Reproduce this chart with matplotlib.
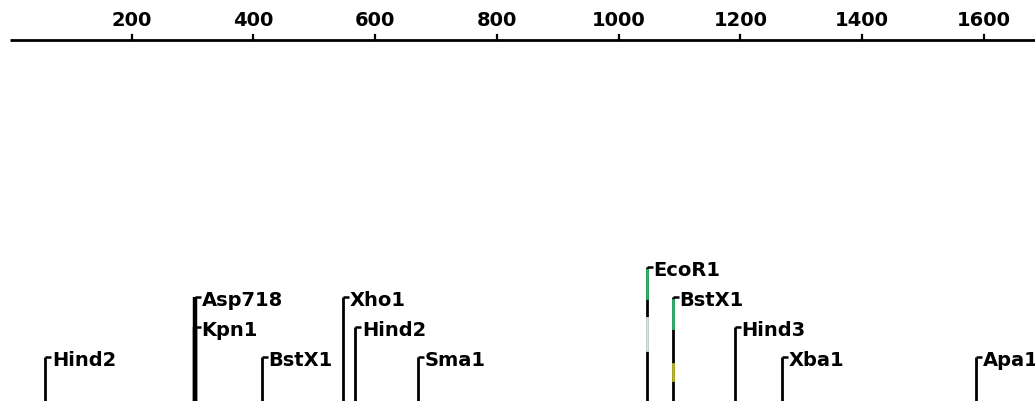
import numpy as np
import matplotlib
matplotlib.use("Agg")
import matplotlib.pyplot as plt
from matplotlib.transforms import offset_copy

# ruler ticks (bp)
tick_pos = [200, 400, 600, 800, 1000, 1200, 1400, 1600]
tick_labels = ["200", "400", "600", "800", "1000", "1200", "1400", "1600"]

# restriction sites: name, position (bp), label row (0 = lowest)
enzymes = ["Hind2", "Asp718", "Kpn1", "BstX1", "Xho1", "Hind2", "Sma1",
           "EcoR1", "BstX1", "Hind3", "Xba1", "Apa1"]
positions = [58, 304, 304, 414, 547, 567, 670, 1046, 1089, 1191, 1268, 1587]
rows = [0, 2, 1, 0, 2, 1, 0, 3, 2, 1, 0, 0]

W, H = 1035, 401
px_per_bp = 0.6087
x0_px = 10
fig = plt.figure(figsize=(W / 100, H / 100), dpi=100)
ax = fig.add_axes([0, 0, 1, 1])
ax.set_xlim(-x0_px / px_per_bp, (W - x0_px) / px_per_bp)
ax.set_ylim(H, 0)   # y in pixels from top
ax.axis("off")

font = dict(family="DejaVu Sans", weight="bold", fontsize=14, color="black")

# ruler
ruler_y = 40
ax.plot([0, (W - x0_px) / px_per_bp + 5], [ruler_y, ruler_y], color="black", lw=2,
        solid_capstyle="butt")
for p, lab in zip(tick_pos, tick_labels):
    ax.plot([p, p], [ruler_y, ruler_y - 5], color="black", lw=1.6)
    ax.text(p, 21, lab, ha="center", va="center", **font)

# sites
row0_y = 361
row_step = 30
hook = 6 / px_per_bp
counts = {}
for p in positions:
    counts[p] = counts.get(p, 0) + 1

for name, p, r in zip(enzymes, positions, rows):
    y = row0_y - row_step * r
    hy = y - 4
    lw = 3.2 if counts[p] > 1 else 2.0
    ax.plot([p, p], [hy, H + 2], color="black", lw=lw, solid_capstyle="butt")
    ax.plot([p, p + hook], [hy, hy], color="black", lw=1.8, solid_capstyle="butt")
    tr = offset_copy(ax.transData, fig=fig, x=0.5, y=0, units="points")
    ax.text(p + hook, y, name, ha="left", va="center", transform=tr, **font)

# scanning colour fringes on the EcoR1 / BstX1 lines
ax.plot([1046, 1046], [270, 298], color="#2db36b", lw=2.0)
ax.plot([1046, 1046], [318, 350], color="#d8e4e4", lw=2.0)
ax.plot([1089, 1089], [300, 328], color="#2db36b", lw=2.0)
ax.plot([1089, 1089], [364, 380], color="#b9b52a", lw=2.0)

fig.savefig("out.png", dpi=100)
